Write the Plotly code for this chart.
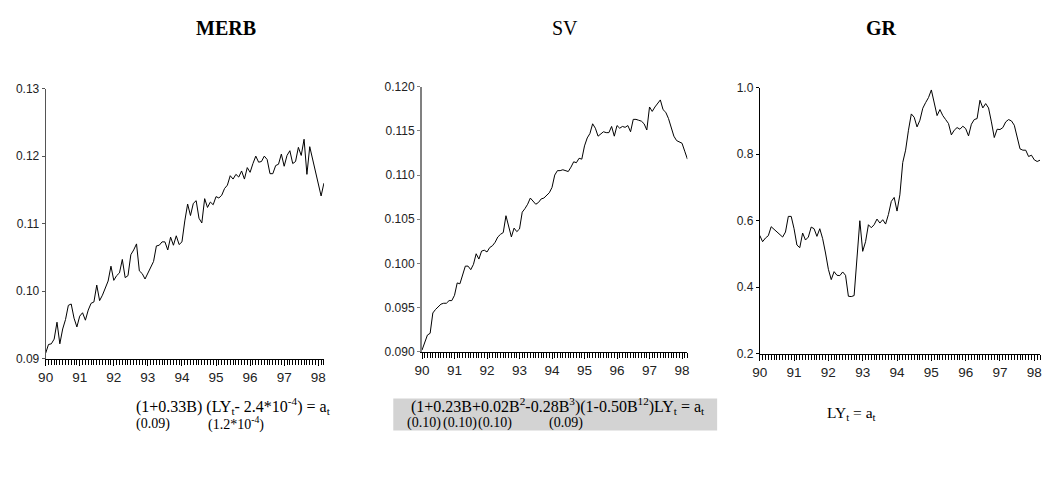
import numpy as np
import plotly.graph_objects as go

W, H = 1045, 491

# ---------------- data (monthly, Jan 1990 .. Mar 1998) ----------------
start_year = 90
titles = ["MERB", "SV", "GR"]
year_ticks = [90, 91, 92, 93, 94, 95, 96, 97, 98]

merb = [0.0908, 0.0921, 0.0922, 0.0929, 0.0954, 0.0922, 0.0944, 0.0958, 0.0979, 0.0981,
        0.0960, 0.0947, 0.0963, 0.0968, 0.0957, 0.0972, 0.0982, 0.0984, 0.1009, 0.0986,
        0.0994, 0.1004, 0.1015, 0.1037, 0.1016, 0.1023, 0.1027, 0.1047, 0.1020, 0.1023,
        0.1054, 0.1061, 0.1070, 0.1030, 0.1026, 0.1018, 0.1027, 0.1034, 0.1044, 0.1067,
        0.1068, 0.1073, 0.1073, 0.1061, 0.1080, 0.1068, 0.1082, 0.1069, 0.1073, 0.1104,
        0.1129, 0.1112, 0.1130, 0.1134, 0.1108, 0.1101, 0.1137, 0.1124, 0.1132, 0.1128,
        0.1140, 0.1138, 0.1142, 0.1152, 0.1157, 0.1171, 0.1166, 0.1173, 0.1169, 0.1178,
        0.1166, 0.1183, 0.1176, 0.1189, 0.1200, 0.1191, 0.1192, 0.1200, 0.1195, 0.1174,
        0.1174, 0.1186, 0.1188, 0.1203, 0.1185, 0.1201, 0.1208, 0.1189, 0.1192, 0.1213,
        0.1201, 0.1225, 0.1173, 0.1214, 0.1195, 0.1177, 0.1157, 0.1141, 0.1160]

sv = [0.0902, 0.0911, 0.0919, 0.0921, 0.0944, 0.0948, 0.0951, 0.0954, 0.0955, 0.0955,
      0.0958, 0.0958, 0.0964, 0.0978, 0.0977, 0.0986, 0.0997, 0.0997, 0.0993, 0.0999,
      0.1011, 0.1005, 0.1014, 0.1015, 0.1013, 0.1018, 0.1020, 0.1024, 0.1030, 0.1033,
      0.1035, 0.1054, 0.1041, 0.1030, 0.1040, 0.1036, 0.1039, 0.1058, 0.1062, 0.1067,
      0.1074, 0.1070, 0.1067, 0.1069, 0.1073, 0.1074, 0.1077, 0.1080, 0.1086, 0.1100,
      0.1105, 0.1105, 0.1106, 0.1105, 0.1104, 0.1109, 0.1115, 0.1114, 0.1119, 0.1118,
      0.1133, 0.1142, 0.1147, 0.1158, 0.1153, 0.1144, 0.1147, 0.1149, 0.1148, 0.1148,
      0.1155, 0.1144, 0.1156, 0.1153, 0.1155, 0.1154, 0.1156, 0.1149, 0.1163, 0.1163,
      0.1162, 0.1161, 0.1158, 0.1151, 0.1177, 0.1172, 0.1177, 0.1181, 0.1185, 0.1174,
      0.1171, 0.1164, 0.1153, 0.1144, 0.1139, 0.1137, 0.1136, 0.1127, 0.1118]

gr = [0.556, 0.537, 0.548, 0.555, 0.582, 0.574, 0.567, 0.558, 0.551, 0.566,
      0.613, 0.613, 0.576, 0.527, 0.519, 0.563, 0.542, 0.551, 0.581, 0.576,
      0.553, 0.576, 0.546, 0.503, 0.454, 0.423, 0.447, 0.436, 0.435, 0.446,
      0.436, 0.373, 0.372, 0.375, 0.480, 0.600, 0.508, 0.537, 0.588, 0.579,
      0.588, 0.605, 0.593, 0.603, 0.590, 0.619, 0.658, 0.670, 0.629, 0.678,
      0.775, 0.812, 0.872, 0.921, 0.911, 0.882, 0.902, 0.938, 0.955, 0.970,
      0.993, 0.950, 0.916, 0.934, 0.916, 0.904, 0.892, 0.858, 0.872, 0.880,
      0.875, 0.884, 0.877, 0.855, 0.890, 0.904, 0.907, 0.962, 0.939, 0.952,
      0.939, 0.897, 0.850, 0.875, 0.874, 0.880, 0.897, 0.904, 0.900, 0.887,
      0.848, 0.816, 0.812, 0.812, 0.793, 0.797, 0.783, 0.778, 0.782]

series = [merb, sv, gr]
y_ticks = [[0.09, 0.10, 0.11, 0.12, 0.13],
           [0.090, 0.095, 0.100, 0.105, 0.110, 0.115, 0.120],
           [0.2, 0.4, 0.6, 0.8, 1.0]]
y_fmt = [".2f", ".3f", ".1f"]

# ---------------- layout geometry (pixels) ----------------
boxes = [(38, 319, 84, 362), (418, 686, 82, 355), (759, 1042, 83, 357)]
yline_colors = ["#555555", "#808080", "#000000"]
yline_widths = [1, 2, 1]
title_x = [220, 562, 882]
title_bold = [True, False, True]

fig = go.Figure()
layout = dict(width=W, height=H, autosize=False,
              margin=dict(l=0, r=0, t=0, b=0),
              paper_bgcolor="white", plot_bgcolor="white",
              showlegend=False)

for i, vals in enumerate(series):
    n = i + 1
    xs = start_year + np.arange(len(vals)) / 12.0
    xa = "x" if n == 1 else f"x{n}"
    ya = "y" if n == 1 else f"y{n}"
    fig.add_trace(go.Scatter(x=xs, y=vals, mode="lines",
                             line=dict(color="black", width=1),
                             xaxis=xa, yaxis=ya, hoverinfo="skip"))
    l, r, t, b = boxes[i]
    x_end = start_year + (len(vals) - 1) / 12.0
    layout[f"xaxis{'' if n == 1 else n}"] = dict(
        domain=[l / W, r / W], anchor=ya, range=[start_year, x_end],
        tickmode="linear", tick0=year_ticks[0], dtick=1,
        showgrid=False, zeroline=False, showline=True, linecolor="black", linewidth=1,
        ticks="outside", ticklen=6, tickcolor="#000000", tickwidth=1.2,
        tickfont=dict(family="Liberation Sans, Arial", size=13.5, color="#222222"),
        minor=dict(tickmode="linear", tick0=year_ticks[0], dtick=1 / 12.0,
                   ticks="outside", ticklen=5, tickcolor="#000000", tickwidth=1,
                   showgrid=False),
        fixedrange=True)
    layout[f"yaxis{'' if n == 1 else n}"] = dict(
        domain=[1 - b / H, 1 - t / H], anchor=xa,
        range=[y_ticks[i][0], y_ticks[i][-1]],
        tickmode="array", tickvals=y_ticks[i], tickformat=y_fmt[i],
        showgrid=False, zeroline=False, showline=True,
        linecolor=yline_colors[i], linewidth=yline_widths[i],
        ticks="outside", ticklen=3, tickcolor=yline_colors[i], tickwidth=1,
        tickfont=dict(family="Liberation Sans, Arial", size=12, color="#222222"),
        fixedrange=True)

fig.update_layout(**layout)

serif = "Liberation Serif, Times New Roman, serif"
ann = []
for i, t in enumerate(titles):
    ann.append(dict(text=f"<b>{t}</b>" if title_bold[i] else t,
                    x=title_x[i] / W, y=1 - 22 / H, xref="paper", yref="paper",
                    xanchor="center", yanchor="middle", showarrow=False,
                    font=dict(family=serif, size=20, color="black")))

def txt(s, x, y, size=14, anchor="center"):
    ann.append(dict(text=s, x=x / W, y=1 - y / H, xref="paper", yref="paper",
                    xanchor=anchor, yanchor="middle", showarrow=False,
                    font=dict(family=serif, size=size, color="black")))

# formulas
txt("(1+0.33B) (LY<sub>t</sub>- 2.4*10<sup>-4</sup>) = a<sub>t</sub>", 228, 411, size=16)
txt("(0.09)", 146, 429)
txt("(1.2*10<sup>-4</sup>)", 230, 429)

fig.add_shape(type="rect", xref="paper", yref="paper",
              x0=389 / W, x1=716 / W, y0=1 - 436 / H, y1=1 - 403 / H,
              fillcolor="#d3d3d3", line=dict(width=0), layer="below")
txt("(1+0.23B+0.02B<sup>2</sup>-0.28B<sup>3</sup>)(1-0.50B<sup>12</sup>)LY<sub>t</sub> = a<sub>t</sub>",
    555, 411, size=16)
txt("(0.10)", 420, 428)
txt("(0.10)", 456, 428)
txt("(0.10)", 492, 428)
txt("(0.09)", 563, 428)

txt("LY<sub>t</sub> = a<sub>t</sub>", 852, 418, size=15.5)

fig.update_layout(annotations=ann)
fig.write_html("out.html")
